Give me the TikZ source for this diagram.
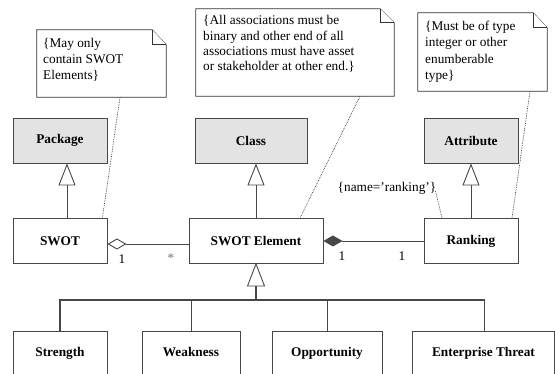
\documentclass[tikz,border=0pt]{standalone}
\usepackage{fontspec}
\setmainfont{Liberation Serif}
\usetikzlibrary{arrows.meta}
\begin{document}
\begin{tikzpicture}[x=1pt,y=-1pt,
  line/.style={draw=black!72, line width=0.9pt},
  box/.style={line, minimum height=45pt, inner sep=0pt, font=\fontsize{13.3}{15}\selectfont\bfseries},
  gbox/.style={box, fill=black!11},
  notebg/.style={inner sep=0pt},
  notepath/.style={draw=black!80, line width=0.8pt, fill=white},
  notetext/.style={inner sep=0pt, align=left, font=\fontsize{13.3}{15.8}\selectfont},
  lbl/.style={inner sep=0pt, font=\fontsize{13.3}{15}\selectfont},
  dots/.style={draw=black!80, densely dotted, line width=0.7pt},
  gen/.style={line, -{Triangle[open, fill=white, length=22pt, width=17pt, line width=0.9pt]}},
  agg/.style={line, {Diamond[open, fill=white, length=19pt, width=11pt, line width=0.9pt]}-},
  comp/.style={line, {Diamond[length=19pt, width=11pt]}-}
]
\useasboundingbox (0,0) rectangle (555,374);
\clip (0,0) rectangle (555,374);

% notes
\node[notebg, minimum width=129pt, minimum height=67pt] (n1) at (101.5,63.5) {};
\draw[notepath] (n1.south west) -- (n1.north west) -- ([xshift=-14pt]n1.north east)
  -- ([yshift=-15pt]n1.north east) -- (n1.south east) -- cycle;
\draw[notepath] ([xshift=-14pt]n1.north east) -- ([xshift=-14pt,yshift=-15pt]n1.north east) -- ([yshift=-15pt]n1.north east);
\node[notetext, anchor=north west] (t1) at (43,38) {\{May only\\contain SWOT\\Elements\}};

\node[notebg, minimum width=198pt, minimum height=87pt] (n2) at (295,52.5) {};
\draw[notepath] (n2.south west) -- (n2.north west) -- ([xshift=-14pt]n2.north east)
  -- ([yshift=-14pt]n2.north east) -- (n2.south east) -- cycle;
\draw[notepath] ([xshift=-14pt]n2.north east) -- ([xshift=-14pt,yshift=-14pt]n2.north east) -- ([yshift=-14pt]n2.north east);
\node[notetext, anchor=north west, font=\fontsize{13.3}{15.1}\selectfont] (t2) at (203,15.5) {\{All associations must be\\binary and other end of all\\associations must have asset\\or stakeholder at other end.\}};

\node[notebg, minimum width=129pt, minimum height=78pt] (n3) at (482.5,52) {};
\draw[notepath] (n3.south west) -- (n3.north west) -- ([xshift=-14pt]n3.north east)
  -- ([yshift=-15pt]n3.north east) -- (n3.south east) -- cycle;
\draw[notepath] ([xshift=-14pt]n3.north east) -- ([xshift=-14pt,yshift=-15pt]n3.north east) -- ([yshift=-15pt]n3.north east);
\node[notetext, anchor=north west, font=\fontsize{13.3}{16.3}\selectfont] (t3) at (425,21) {\{Must be of type\\integer or other\\enumberable\\type\}};

% classes
\node[gbox, minimum width=94pt] (package) at (60,140.5) {Package};
\node[gbox, minimum width=112pt] (class) at (251,140.5) {Class};
\node[gbox, minimum width=94pt] (attribute) at (471,140.5) {Attribute};

\node[box, minimum width=94pt] (swot) at (60,241) {SWOT};
\node[box, minimum width=134pt] (elem) at (256,241) {SWOT Element};
\node[box, minimum width=94pt] (ranking) at (471,241) {Ranking};

\node[box, minimum width=94pt, minimum height=46pt] (strength) at (60,354) {\raisebox{4pt}{Strength}};
\node[box, minimum width=98pt, minimum height=46pt] (weakness) at (191,354) {\raisebox{4pt}{Weakness}};
\node[box, minimum width=110pt, minimum height=46pt] (opportunity) at (327,354) {\raisebox{4pt}{Opportunity}};
\node[box, minimum width=142.5pt, minimum height=46pt] (threat) at (483.5,354) {\raisebox{4pt}{Enterprise Threat}};

% generalizations
\draw[gen] ([xshift=7pt]swot.north) -- ([xshift=7pt]swot.north |- package.south);
\draw[gen] (elem.north) -- (elem.north |- class.south);
\draw[gen] (ranking.north) -- (ranking.north |- attribute.south);

\coordinate (bar) at (256,300);
\coordinate (base) at (256,286);
\draw[line, line width=1.8pt] (bar) -- (base);
\draw[line, fill=white, line width=0.9pt] (elem.south) -- ([xshift=-8.5pt]base) -- ([xshift=8.5pt]base) -- cycle;
\draw[line, line width=1.3pt] (strength.north) -- (strength.north |- bar) -- ([xshift=1pt]threat.north |- bar) -- ([xshift=1pt]threat.north);
\draw[line] (weakness.north) -- (weakness.north |- bar);
\draw[line] (opportunity.north) -- (opportunity.north |- bar);

% associations
\draw[agg] ([yshift=-3pt]swot.east) -- ([yshift=-3pt]elem.west);
\draw[comp] (elem.east) -- (ranking.west);
\node[lbl] (m1) at (122,259) {1};
\node[lbl, text=black!55] (m2) at (171,258.5) {*};
\node[lbl] (m3) at (342,256) {1};
\node[lbl] (m4) at (402,256) {1};

\node[lbl] (rname) at (387,188) {\{name='ranking'\}};

% note anchors
\draw[dots] ([xshift=18.5pt]n1.south) -- ([xshift=-5pt]swot.north east);
\draw[dots] ([xshift=65pt]n2.south) -- ([xshift=44pt]elem.north);
\draw[dots] ([xshift=47.5pt]n3.south) -- ([xshift=41pt]ranking.north);
\draw[dots] ([xshift=-1pt,yshift=-3pt]rname.east) -- ([xshift=-29pt]ranking.north);
\end{tikzpicture}
\end{document}
